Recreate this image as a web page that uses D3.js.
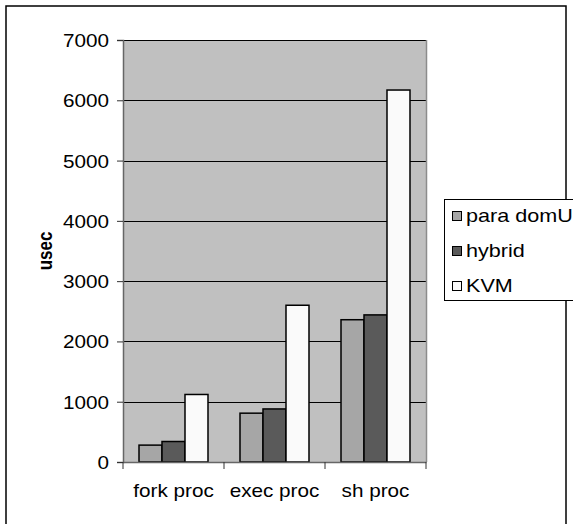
<!DOCTYPE html>
<html><head><meta charset="utf-8">
<script src="https://cdn.jsdelivr.net/npm/d3@7"></script>
<style>body{margin:0;background:#fff}svg{display:block}text{font-family:"Liberation Sans",Arial,sans-serif;fill:#000}</style>
</head><body>
<script>
const categories = ["fork proc", "exec proc", "sh proc"];
const seriesNames = ["para domU", "hybrid", "KVM"];
const paraDomU = [280, 810, 2360];
const hybrid = [340, 880, 2440];
const kvm = [1120, 2600, 6170];
const yTicks = [0, 1000, 2000, 3000, 4000, 5000, 6000, 7000];
const colors = ["#a6a6a6", "#5a5a5a", "#fafafa"];

const W = 573, H = 524;
const svg = d3.select("body").append("svg").attr("width", W).attr("height", H);
const SX = 1.15, FS = 18;

// outer frame
svg.append("rect").attr("x", 6).attr("y", 6).attr("width", 560).attr("height", 540)
  .attr("fill", "#fff").attr("stroke", "#000").attr("stroke-width", 1.5);

const plot = {l: 123, r: 426, t: 40, b: 462};
const x = d3.scaleBand().domain(categories).range([plot.l, plot.r]).paddingInner(0).paddingOuter(0);
const xs = d3.scaleBand().domain(seriesNames).range([0, x.bandwidth()]).paddingInner(0).paddingOuter(0.696);
const y = d3.scaleLinear().domain([0, 7000]).range([plot.b, plot.t]);

svg.append("rect").attr("x", plot.l).attr("y", plot.t).attr("width", plot.r - plot.l).attr("height", plot.b - plot.t)
  .attr("fill", "#c0c0c0");

// gridlines
svg.append("g").selectAll("line").data(yTicks.filter(d => d > 0)).join("line")
  .attr("x1", plot.l).attr("x2", plot.r).attr("y1", d => Math.round(y(d)) + 0.5).attr("y2", d => Math.round(y(d)) + 0.5)
  .attr("stroke", "#000").attr("stroke-width", 1);

// plot border right
svg.append("line").attr("x1", plot.r + 0.5).attr("x2", plot.r + 0.5).attr("y1", plot.t).attr("y2", plot.b)
  .attr("stroke", "#8c8c8c").attr("stroke-width", 1.5);

// bars
const seriesVals = [paraDomU, hybrid, kvm];
seriesNames.forEach((s, si) => {
  svg.append("g").selectAll("rect").data(categories).join("rect")
    .attr("x", c => x(c) + xs(s))
    .attr("y", (c, i) => y(seriesVals[si][i]))
    .attr("width", xs.bandwidth())
    .attr("height", (c, i) => y(0) - y(seriesVals[si][i]))
    .attr("fill", colors[si]).attr("stroke", "#000").attr("stroke-width", 1.5);
});

// y axis
const yAxis = d3.axisLeft(y).tickValues(yTicks).tickSize(6).tickPadding(7).tickFormat(d3.format("d"));
const gy = svg.append("g").attr("transform", `translate(${plot.l},0)`).call(yAxis);
gy.select(".domain").attr("stroke", "#666").attr("stroke-width", 1.5);
gy.selectAll(".tick line").attr("stroke", "#333");
gy.selectAll(".tick text").attr("font-size", FS).attr("dy", "0.36em")
  .attr("transform", `translate(-6,0) scale(${SX},1)`)
  .attr("x", -8 / SX);

// x axis
const xAxis = d3.axisBottom(x).tickSize(0).tickPadding(0);
const gx = svg.append("g").attr("transform", `translate(0,${plot.b})`).call(xAxis);
gx.select(".domain").attr("stroke", "#666").attr("stroke-width", 1.5);
gx.selectAll(".tick text").remove();
svg.append("g").selectAll("line").data(categories.concat(["__end"])).join("line")
  .attr("x1", (d, i) => plot.l + i * x.step()).attr("x2", (d, i) => plot.l + i * x.step())
  .attr("y1", plot.b).attr("y2", plot.b + 7).attr("stroke", "#333").attr("stroke-width", 1);
svg.append("g").selectAll("text").data(categories).join("text")
  .attr("transform", d => `translate(${x(d) + x.bandwidth() / 2},497) scale(${SX},1)`)
  .attr("text-anchor", "middle").attr("font-size", FS).text(d => d);

// y title
svg.append("text").attr("transform", "translate(52,251) rotate(-90) scale(1,1.15)")
  .attr("text-anchor", "middle").attr("font-size", 17).attr("font-weight", "bold").text("usec");

// legend
const lg = svg.append("g");
lg.append("rect").attr("x", 444.5).attr("y", 199.5).attr("width", 140).attr("height", 101)
  .attr("fill", "#fff").attr("stroke", "#000").attr("stroke-width", 1);
const rows = lg.selectAll("g.row").data(seriesNames).join("g").attr("class", "row")
  .attr("transform", (d, i) => `translate(0,${216 + i * 35})`);
rows.append("rect").attr("x", 452.5).attr("y", -4.5).attr("width", 9).attr("height", 9)
  .attr("fill", (d, i) => colors[i]).attr("stroke", "#000").attr("stroke-width", 1);
rows.append("text").attr("transform", `translate(466,0) scale(1.2,1)`).attr("dy", "0.36em")
  .attr("font-size", FS).text(d => d);
</script>
</body></html>
